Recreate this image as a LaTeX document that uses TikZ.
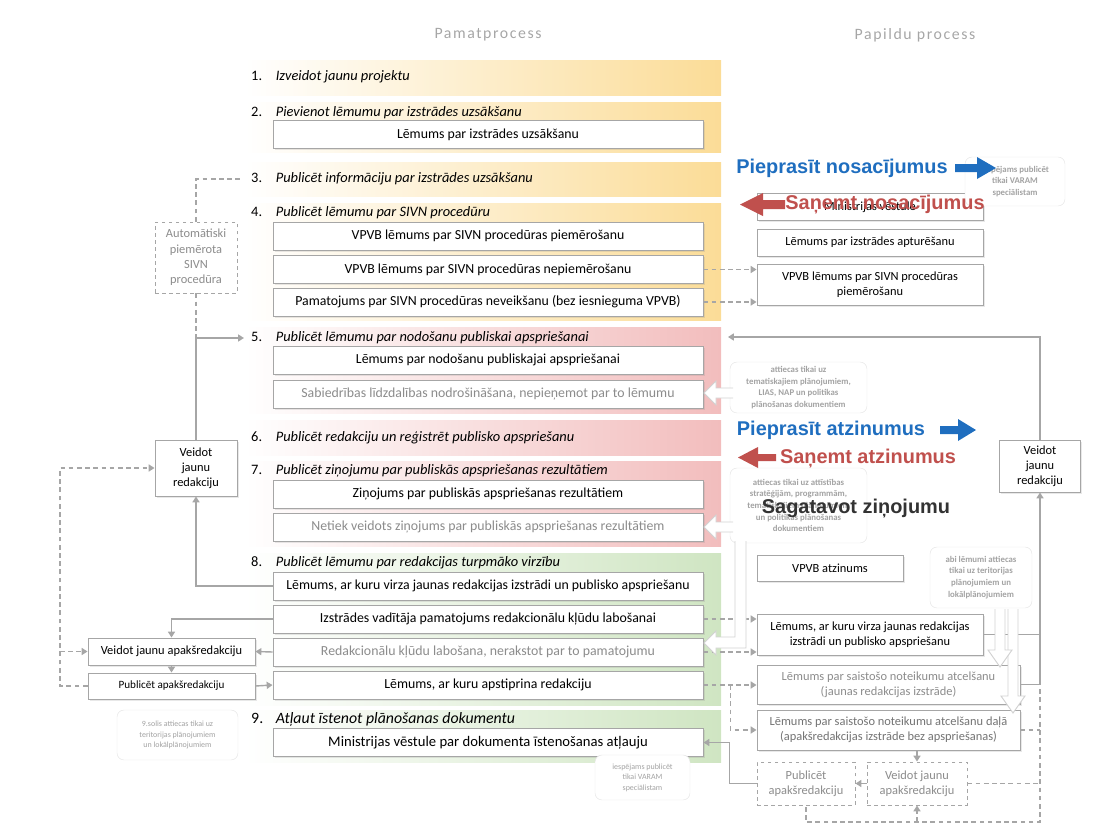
\documentclass[tikz,border=0pt]{standalone}
\usepackage{fontspec}
\setmainfont{Carlito}
\newfontfamily\heavysans{Liberation Sans}
\usetikzlibrary{arrows.meta,shadows}
\definecolor{bandyellow}{HTML}{FBDC97}
\definecolor{bandred}{HTML}{F2BDBD}
\definecolor{bandgreen}{HTML}{CFE5C2}
\definecolor{reqblue}{HTML}{1F6EBF}
\definecolor{getred}{HTML}{C0504D}
\definecolor{linegray}{HTML}{A6A6A6}
\definecolor{textgray}{HTML}{8C8C8C}
\definecolor{notegray}{HTML}{A3A3A3}
\newcommand\stepnum[1]{\makebox[21pt][l]{#1}}

\begin{document}
\begin{tikzpicture}[x=0.03cm,y=-0.03cm,
  every node/.style={font=\fontsize{11.8}{14}\selectfont},
  mainbox/.style={draw=linegray,fill=white,line width=0.8pt,minimum width=12.9cm,
    minimum height=0.84cm,inner sep=1pt,
    drop shadow={shadow xshift=1.5pt,shadow yshift=-1.5pt,opacity=0.18}},
  sidebox/.style={draw=linegray,fill=white,line width=0.8pt,align=center,inner sep=1pt,
    font=\fontsize{10.6}{13}\selectfont,
    drop shadow={shadow xshift=1.5pt,shadow yshift=-1.5pt,opacity=0.18}},
  dashbox/.style={draw=linegray,dashed,line width=0.8pt,fill=white,align=center,
    inner sep=1pt,text=textgray,font=\fontsize{10.6}{13}\selectfont},
  steplabel/.style={anchor=west,inner sep=0pt,font=\fontsize{12.3}{15}\selectfont},
  note/.style={draw=gray!20,fill=white,rounded corners=6pt,align=center,text=notegray,
    inner sep=1pt,font=\fontsize{7.5}{10}\selectfont\bfseries},
  conn/.style={draw=linegray,line width=1.2pt,-{Triangle[length=5pt,width=6pt]}},
  dline/.style={draw=linegray,line width=1.2pt,dash pattern=on 4pt off 3pt},
  dconn/.style={dline,-{Triangle[length=5pt,width=6pt]}},
  blockarr/.style={draw=gray!35,fill=white,line width=0.8pt},
  shout/.style={font=\heavysans\fontsize{17}{20}\selectfont\bfseries,inner sep=0pt}]
\useasboundingbox (0,0) rectangle (1108,834);

% step bands
\shade[left color=white,right color=bandyellow] (245,60) rectangle (721,95);
\shade[left color=white,right color=bandyellow] (245,102) rectangle (721,152);
\shade[left color=white,right color=bandyellow] (245,162) rectangle (721,196);
\shade[left color=white,right color=bandyellow] (245,203) rectangle (721,320);
\shade[left color=white,right color=bandred] (245,327) rectangle (721,413);
\shade[left color=white,right color=bandred] (245,420) rectangle (721,455);
\shade[left color=white,right color=bandred] (245,461) rectangle (721,546);
\shade[left color=white,right color=bandgreen] (245,553) rectangle (721,705);
\shade[left color=white,right color=bandgreen] (245,710) rectangle (721,762);

% headers
\node[text=gray!70,font=\fontsize{13.5}{16}\selectfont\addfontfeature{LetterSpace=10}] (hmain) at (488,35) {Pamatprocess};
\node[text=gray!70,font=\fontsize{13.5}{16}\selectfont\addfontfeature{LetterSpace=10}] (hside) at (915,35) {Papildu process};

% steps
\node[steplabel] (s1) at (251,77) {\stepnum{1.}\textit{Izveidot jaunu projektu}};
\node[steplabel] (s2) at (251,113) {\stepnum{2.}\textit{Pievienot lēmumu par izstrādes uzsākšanu}};
\node[steplabel] (s3) at (251,179) {\stepnum{3.}\textit{Publicēt informāciju par izstrādes uzsākšanu}};
\node[steplabel] (s4) at (251,213) {\stepnum{4.}\textit{Publicēt lēmumu par SIVN procedūru}};
\node[steplabel] (s5) at (251,338) {\stepnum{5.}\textit{Publicēt lēmumu par nodošanu publiskai apspriešanai}};
\node[steplabel] (s6) at (251,438) {\stepnum{6.}\textit{Publicēt redakciju un reģistrēt publisko apspriešanu}};
\node[steplabel] (s7) at (251,471) {\stepnum{7.}\textit{Publicēt ziņojumu par publiskās apspriešanas rezultātiem}};
\node[steplabel] (s8) at (251,563) {\stepnum{8.}\textit{Publicēt lēmumu par redakcijas turpmāko virzību}};
\node[steplabel,font=\fontsize{13.5}{16}\selectfont] (s9) at (251,719) {\stepnum{9.}\textit{Atļaut īstenot plānošanas dokumentu}};

% main process boxes
\node[mainbox] (b2) at (488,134.5) {Lēmums par izstrādes uzsākšanu};
\node[mainbox] (b4a) at (488,236) {VPVB lēmums par SIVN procedūras piemērošanu};
\node[mainbox] (b4b) at (488,269.5) {VPVB lēmums par SIVN procedūras nepiemērošanu};
\node[mainbox] (b4c) at (488,302) {Pamatojums par SIVN procedūras neveikšanu (bez iesnieguma VPVB)};
\node[mainbox] (b5a) at (488,360) {Lēmums par nodošanu publiskajai apspriešanai};
\node[mainbox,text=textgray] (b5b) at (488,394) {Sabiedrības līdzdalības nodrošināšana, nepieņemot par to lēmumu};
\node[mainbox] (b7a) at (488,494) {Ziņojums par publiskās apspriešanas rezultātiem};
\node[mainbox,text=textgray] (b7b) at (488,527) {Netiek veidots ziņojums par publiskās apspriešanas rezultātiem};
\node[mainbox] (b8a) at (488,586) {Lēmums, ar kuru virza jaunas redakcijas izstrādi un publisko apspriešanu};
\node[mainbox] (b8b) at (488,619) {Izstrādes vadītāja pamatojums redakcionālu kļūdu labošanai};
\node[mainbox,text=textgray] (b8c) at (488,652) {Redakcionālu kļūdu labošana, nerakstot par to pamatojumu};
\node[mainbox] (b8d) at (488,685) {Lēmums, ar kuru apstiprina redakciju};
\node[mainbox,font=\fontsize{12.5}{15}\selectfont] (b9) at (488,742.5) {Ministrijas vēstule par dokumenta īstenošanas atļauju};

% left side
\node[dashbox,minimum width=2.46cm,minimum height=2.13cm] (auto) at (196,257.5) {Automātiski\\piemērota\\SIVN\\procedūra};
\node[sidebox,minimum width=2.46cm,minimum height=1.68cm] (veidL) at (196,468) {Veidot\\jaunu\\redakciju};
\node[sidebox,minimum width=5.01cm,minimum height=0.81cm] (vjapL) at (171.5,651.5) {Veidot jaunu apakšredakciju};
\node[sidebox,minimum width=5.01cm,minimum height=0.78cm,font=\fontsize{9.5}{11}\selectfont] (pubL) at (171.5,686) {Publicēt apakšredakciju};
\node[note,minimum width=3.63cm,minimum height=1.5cm,font=\fontsize{6.8}{9}\selectfont] (n9) at (177.5,735) {9.solis attiecas tikai uz\\teritorijas plānojumiem\\un lokālplānojumiem};

% right side
\node[sidebox,minimum width=6.78cm,minimum height=0.81cm] (r3a) at (870,207) {Ministrijas vēstule};
\node[sidebox,minimum width=6.78cm,minimum height=0.81cm] (r3b) at (870,242.5) {Lēmums par izstrādes apturēšanu};
\node[sidebox,minimum width=6.78cm,minimum height=1.23cm] (r4) at (870,284.5) {VPVB lēmums par SIVN procedūras\\piemērošanu};
\node[sidebox,minimum width=4.38cm,minimum height=0.78cm] (r7) at (830,568) {VPVB atzinums};
\node[sidebox,minimum width=6.78cm,minimum height=1.23cm] (r8a) at (870,634.5) {Lēmums, ar kuru virza jaunas redakcijas\\izstrādi un publisko apspriešanu};
\node[sidebox,minimum width=7.89cm,minimum height=1.17cm,text=textgray] (r8b) at (888.5,684.5) {Lēmums par saistošo noteikumu atcelšanu\\(jaunas redakcijas izstrāde)};
\node[sidebox,minimum width=7.89cm,minimum height=1.2cm,text=gray!90!black] (r8c) at (888.5,730) {Lēmums par saistošo noteikumu atcelšanu daļā\\(apakšredakcijas izstrāde bez apspriešanas)};
\node[dashbox,minimum width=2.94cm,minimum height=1.29cm] (pub2) at (806,783.5) {Publicēt\\apakšredakciju};
\node[dashbox,minimum width=3cm,minimum height=1.29cm] (veid2) at (917,783.5) {Veidot jaunu\\apakšredakciju};
\node[sidebox,minimum width=2.43cm,minimum height=1.56cm] (veidR) at (1040,466) {Veidot\\jaunu\\redakciju};

% notes
\node[note,minimum width=3cm,minimum height=1.47cm] (n1) at (1015,181.5) {iespējams publicēt\\tikai VARAM\\speciālistam};
\node[note,minimum width=4.11cm,minimum height=1.53cm] (n2) at (798.5,387.5) {attiecas tikai uz\\tematiskajiem plānojumiem,\\LIAS, NAP un politikas\\plānošanas dokumentiem};
\node[note,minimum width=4.11cm,minimum height=2.25cm] (n3) at (798.5,505.5) {attiecas tikai uz attīstības\\stratēģijām, programmām,\\tematiskajiem plānojumiem\\un politikas plānošanas\\dokumentiem};
\node[note,minimum width=3.06cm,minimum height=1.83cm] (n4) at (981,577.5) {abi lēmumi attiecas\\tikai uz teritorijas\\plānojumiem un\\lokālplānojumiem};
\node[note,minimum width=2.85cm,minimum height=1.35cm,font=\fontsize{6.8}{9}\selectfont] (n6) at (642.5,777.5) {iespējams publicēt\\tikai VARAM\\speciālistam};

% connectors, left
\coordinate (in3) at (241,179);
\coordinate (lft) at (60,686);
\draw[dline] (auto.north) |- (in3);
\draw[dline] (auto.south) -- (auto.south |- s5.west);
\draw[conn] (veidL.north) |- ([xshift=-6pt]s5.west);
\draw[conn] (b8a.west) -| (veidL.south);
\draw[dconn] (pubL.west) -- (lft) |- (veidL.west);
\draw[dconn] (vjapL.west -| lft) -- (vjapL.west);
\draw[conn] (b8b.west) -| (vjapL.north);
\draw[conn] (b8c.west) -- (vjapL.east);
\draw[conn] (vjapL.south) -- (pubL.north);
\draw[conn] (pubL.east) -- (b8d.west);

% connectors, right
\coordinate (in5) at (728,337);
\coordinate (bot) at (1040,822);
\draw[dconn] (b4b.east) -- (b4b.east -| r4.west);
\draw[dconn] (b4c.east) -- (b4c.east -| r4.west);
\draw[dconn] (b8b.east) -- (b8b.east -| r8a.west);
\draw[dconn] (b8c.east) -- (b8c.east -| r8a.west);
\draw[dconn] (b8d.east) -- (b8d.east -| r8b.west);
\draw[dconn] (b8d.east) ++(27,0) |- (r8c.west);
\draw[conn] (veidR.north) |- (in5);
\draw[conn] (r8b.east) -| (veidR.south);
\draw[conn,-] (r8a.east) -- (r8a.east -| veidR.south);
\draw[dline] (r8c.east) -- (r8c.east -| bot);
\draw[dline] (veid2.east) -- (veid2.east -| bot);
\draw[dline] ([yshift=-4pt]r8b.east -| bot) -- (bot) -| (pub2.south);
\draw[dconn] (veid2.south |- bot) -- (veid2.south);
\draw[conn] (r8c.south -| veid2.north) -- (veid2.north);
\draw[conn] (veid2.west) -- (pub2.east);
\draw[conn] (pub2.west) -- ++(-27,0) |- (b9.east);

% white block arrows
\path[blockarr] (733,388) -- (716,388) -- (716,381) -- (704,393) -- (716,405) -- (716,398) -- (733,398);
\path[blockarr] (733,522) -- (716,522) -- (716,515) -- (704,527) -- (716,539) -- (716,532) -- (733,532);
\path[blockarr] (735,541) -- (735,637) -- (716,637) -- (716,631) -- (704,643) -- (716,655) -- (716,648) -- (746,648) -- (746,541);
\path[blockarr] (1008,609) -- (1008,696) -- (1001,696) -- (1013,713) -- (1025,696) -- (1018,696) -- (1018,609);
\path[blockarr] (995,609) -- (995,650) -- (988,650) -- (1000,667) -- (1012,650) -- (1005,650) -- (1005,609);

% requests and replies
\fill[reqblue] (955,164) -- (977,164) -- (977,157) -- (996,168) -- (977,179) -- (977,172) -- (955,172) -- cycle;
\fill[getred] (785,200) -- (763,200) -- (763,193) -- (740,204.5) -- (763,216) -- (763,209) -- (785,209) -- cycle;
\fill[reqblue] (940,426) -- (958,426) -- (958,419) -- (976,430) -- (958,441) -- (958,434) -- (940,434) -- cycle;
\fill[getred] (776,454) -- (758,454) -- (758,447) -- (738,457.5) -- (758,468) -- (758,461) -- (776,461) -- cycle;
\node[shout,text=reqblue] (reqcond) at (842,168) {Pieprasīt nosacījumus};
\node[shout,text=getred] (getcond) at (885,204) {Saņemt nosacījumus};
\node[shout,text=reqblue] (reqopin) at (831,430) {Pieprasīt atzinumus};
\node[shout,text=getred] (getopin) at (868,458) {Saņemt atzinumus};
\node[shout,text=black!80] (mkrep) at (856,508) {Sagatavot ziņojumu};
\end{tikzpicture}
\end{document}
